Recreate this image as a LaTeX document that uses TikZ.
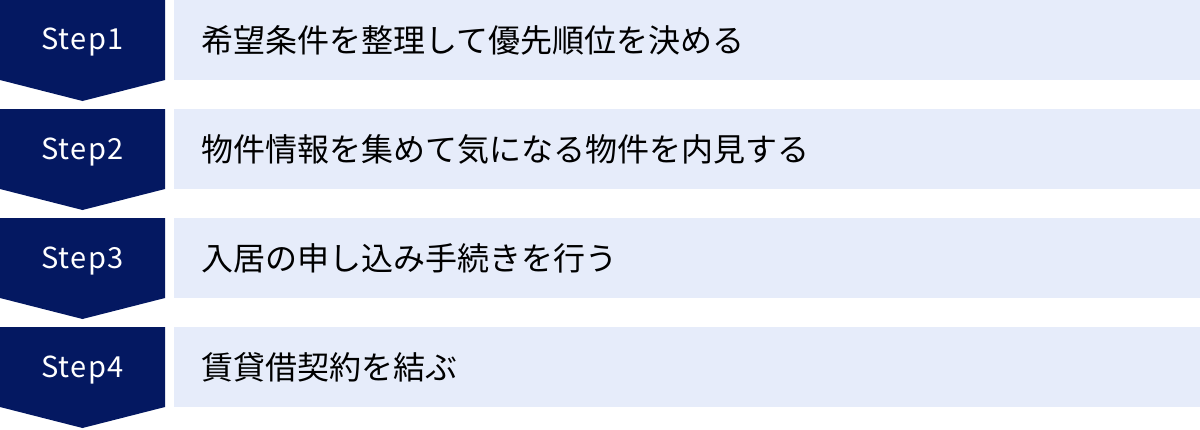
\documentclass[tikz,border=0pt]{standalone}
\usepackage{fontspec}
\setmainfont{Noto Sans CJK JP}
\newfontfamily\stepfont[LetterSpace=5]{Noto Sans CJK JP}
\definecolor{navy}{HTML}{041861}
\definecolor{pale}{HTML}{E6ECFA}
\tikzset{
  stepshape/.style={fill=navy},
  panel/.style={fill=pale},
  steplabel/.style={text=white,font=\stepfont\fontsize{29}{31}\selectfont,inner sep=0pt},
  tasklabel/.style={text=black,font=\fontsize{32}{35}\selectfont,anchor=west,inner sep=0pt},
}
\begin{document}
\begin{tikzpicture}[x=1pt,y=-1pt]
\useasboundingbox (0,0) rectangle (1200,429);
\foreach \i/\t in {0/希望条件を整理して優先順位を決める,1/物件情報を集めて気になる物件を内見する,2/入居の申し込み手続きを行う,3/賃貸借契約を結ぶ}{
  \pgfmathsetmacro{\y}{\i*109}
  \fill[stepshape] (0,\y) -- (165,\y) -- (165,\y+80) -- (82.5,\y+101) -- (0,\y+80) -- cycle;
  \fill[panel] (174,\y) rectangle (1200,\y+80);
  \pgfmathtruncatemacro{\n}{\i+1}
  \node[steplabel] (step\n) at (82.5,\y+42.5) {Step\n};
  \node[tasklabel] (task\n) at (201,\y+40.5) {\t};
}
\end{tikzpicture}
\end{document}
